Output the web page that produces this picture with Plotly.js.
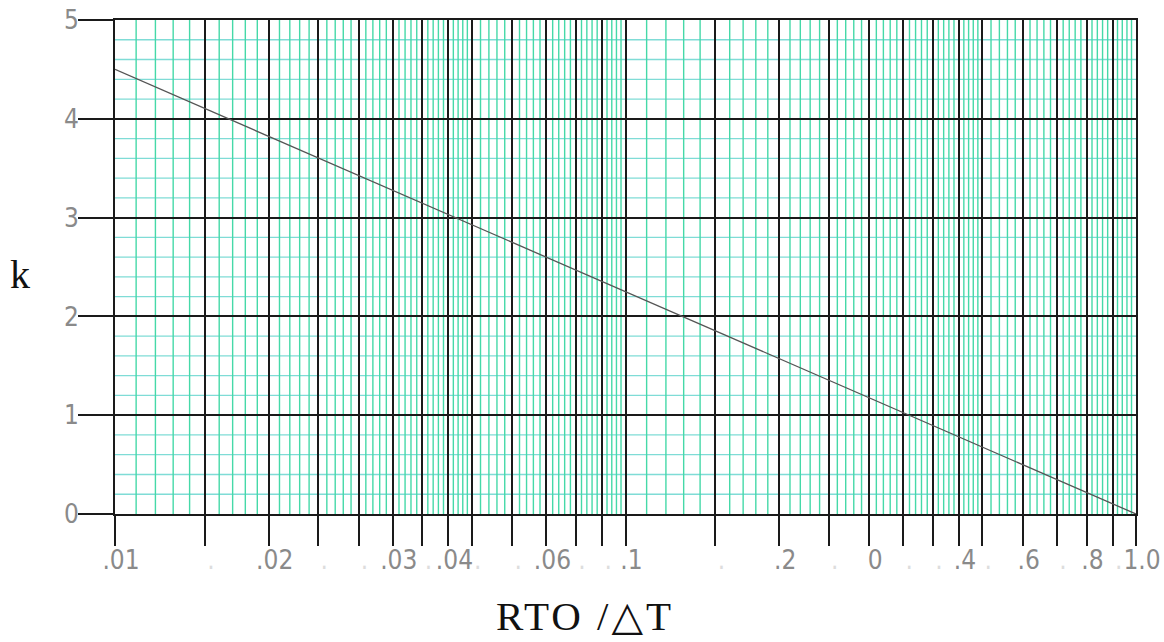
<!DOCTYPE html>
<html>
<head>
<meta charset="utf-8">
<script src="https://cdn.plot.ly/plotly-3.0.1.min.js"></script>
<style>html,body{margin:0;padding:0;background:#fff;}#chart{width:1164px;height:642px;}</style>
</head>
<body>
<div id="chart"></div>
<script>
// Data: k versus RTO/ΔT (straight line on log-x)
var rtoDT = [0.01, 0.1, 1.0];
var kValues = [4.5, 2.25, 0.0];

// Major (black) vertical lines and their printed labels
var majorTickVals = [0.01, 0.015, 0.02, 0.025, 0.03, 0.035, 0.04, 0.045, 0.05, 0.06, 0.07, 0.08, 0.09,
                     0.1, 0.15, 0.2, 0.25, 0.3, 0.35, 0.4, 0.45, 0.5, 0.6, 0.7, 0.8, 0.9, 1.0];
var FAINT = '<span style="color:#dddddd">.</span>';
var majorTickText = ['.01', FAINT, '.02', FAINT, FAINT, '.03', FAINT, '.04', FAINT, FAINT, '.06', FAINT, FAINT,
                     '.1', FAINT, '.2', FAINT, '0', FAINT, FAINT, '.4', FAINT, '.6', FAINT, '.8', FAINT, '1.0'];
var yTickVals = [0, 1, 2, 3, 4, 5];
var yTickText = ['0', '1', '2', '3', '4', '5'];
var yMinorVals = [0.2, 0.4, 0.6, 0.8, 1.2, 1.4, 1.6, 1.8, 2.2, 2.4, 2.6, 2.8, 3.2, 3.4, 3.6, 3.8, 4.2, 4.4, 4.6, 4.8];

// Green graph-paper vertical lines (layout grid, not data)
function minorLines() {
  var out = [];
  var segs = [[0.01, 0.05, 0.001], [0.05, 0.1, 0.002], [0.1, 0.5, 0.01], [0.5, 1.0, 0.02]];
  segs.forEach(function (s) {
    var n = Math.round((s[1] - s[0]) / s[2]);
    for (var i = 1; i < n; i++) {
      var v = +(s[0] + i * s[2]).toFixed(4);
      if (majorTickVals.indexOf(v) === -1) out.push(v);
    }
  });
  return out;
}

var shapes = [];
yMinorVals.forEach(function (v) {
  shapes.push({type: 'line', layer: 'below', xref: 'paper', yref: 'y', x0: 0, x1: 1, y0: v, y1: v,
               line: {color: '#7fdcd6', width: 1.3}});
});
minorLines().forEach(function (v) {
  shapes.push({type: 'line', layer: 'below', xref: 'x', yref: 'paper', x0: v, x1: v, y0: 0, y1: 1,
               line: {color: '#45d9a8', width: 1.4}});
});

var tickFont = {family: '"Liberation Sans Narrow", "DejaVu Sans Condensed", sans-serif', size: 26, color: '#8a8a8a', weight: 300};

var trace = {
  x: rtoDT, y: kValues, type: 'scatter', mode: 'lines',
  line: {color: '#555555', width: 1.3}, hoverinfo: 'skip'
};

var layout = {
  width: 1164, height: 642,
  margin: {l: 115, r: 28, t: 20, b: 128},
  paper_bgcolor: '#ffffff', plot_bgcolor: 'rgba(0,0,0,0)',
  showlegend: false,
  xaxis: {
    type: 'log', range: [-2, 0],
    tickmode: 'array', tickvals: majorTickVals, ticktext: majorTickText,
    ticks: 'outside', ticklen: 30, tickwidth: 2, tickcolor: '#1a1a1a',
    showgrid: true, gridcolor: '#1a1a1a', gridwidth: 2,
    showline: true, linecolor: '#1a1a1a', linewidth: 2, mirror: true,
    zeroline: false, tickangle: 0, tickfont: tickFont, ticklabelstandoff: -8, ticklabelshift: 6
  },
  yaxis: {
    range: [0, 5],
    tickmode: 'array', tickvals: yTickVals, ticktext: yTickText,
    ticks: 'outside', ticklen: 35, tickwidth: 2, tickcolor: '#1a1a1a',
    showgrid: true, gridcolor: '#1a1a1a', gridwidth: 2,
    showline: true, linecolor: '#1a1a1a', linewidth: 2, mirror: true,
    zeroline: false, tickfont: tickFont, ticklabelstandoff: -6
  },
  shapes: shapes,
  annotations: [
    {text: 'k', xref: 'paper', yref: 'paper', x: -0.093, y: 0.484, xanchor: 'center', yanchor: 'middle',
     showarrow: false, font: {family: '"Liberation Serif", "DejaVu Serif", serif', size: 40, color: '#111111'}},
    {text: '<span style="letter-spacing:3px">RTO /\u25B3T</span>', xref: 'paper', yref: 'paper', x: 0.46, y: -0.257,
     xanchor: 'center', yanchor: 'bottom',
     showarrow: false, font: {family: '"Liberation Serif", "DejaVu Serif", serif', size: 41, color: '#111111'}}
  ]
};

Plotly.newPlot('chart', [trace], layout, {staticPlot: true, displayModeBar: false});
</script>
</body>
</html>
